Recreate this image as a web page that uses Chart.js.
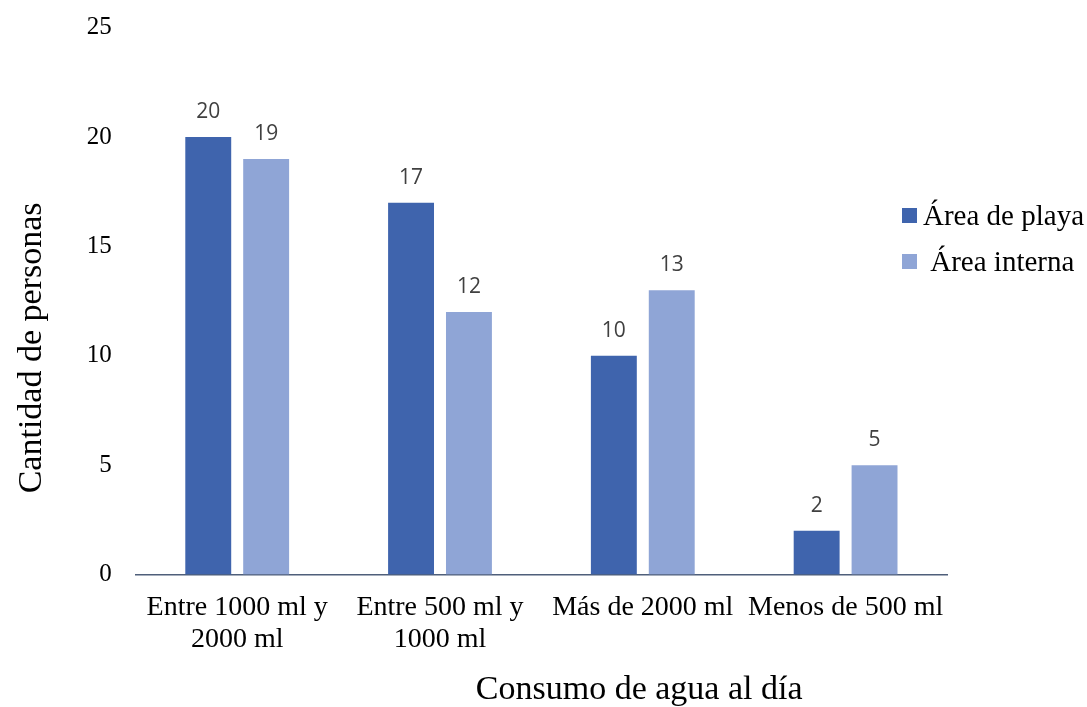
<!DOCTYPE html>
<html>
<head>
<meta charset="utf-8">
<script src="https://cdn.jsdelivr.net/npm/chart.js@4.4.0/dist/chart.umd.min.js"></script>
<style>
  html, body { margin: 0; padding: 0; background: #ffffff; }
  #wrap { position: relative; width: 1087px; height: 707px; }
  #legend { position: absolute; left: 902px; top: 192px; font-family: "Liberation Serif", "Times New Roman", serif; font-size: 29px; color: #000; }
  .item { display: flex; align-items: center; height: 46px; white-space: pre; }
  .box { width: 15px; height: 15px; margin-right: 6px; flex: none; }
</style>
</head>
<body>
<div id="wrap">
  <canvas id="c" width="1087" height="707"></canvas>
  <div id="legend"></div>
</div>
<script>
const categories = [["Entre 1000 ml y", "2000 ml"], ["Entre 500 ml y", "1000 ml"], "Más de 2000 ml", "Menos de 500 ml"];
const seriesNames = ["Área de playa", " Área interna"];
const playa = [20, 17, 10, 2];
const interna = [19, 12, 13, 5];
const yTicksMax = 25;
const yStep = 5;
const colors = ["#3F64AD", "#8FA5D6"];

const serif = '"Liberation Serif", "Times New Roman", serif';

const dataLabels = {
  id: 'dataLabels',
  afterDatasetsDraw(chart) {
    const ctx = chart.ctx;
    ctx.save();
    ctx.font = '21px "Open Sans", "Liberation Sans", sans-serif';
    ctx.fillStyle = '#404040';
    ctx.textAlign = 'center';
    ctx.textBaseline = 'middle';
    chart.data.datasets.forEach((ds, i) => {
      chart.getDatasetMeta(i).data.forEach((bar, j) => {
        ctx.fillText(String(ds.data[j]), bar.x, bar.y - 25);
      });
    });
    ctx.restore();
  }
};

const chart = new Chart(document.getElementById('c'), {
  type: 'bar',
  data: {
    labels: categories,
    datasets: [
      { label: seriesNames[0], data: playa, backgroundColor: colors[0] },
      { label: seriesNames[1], data: interna, backgroundColor: colors[1] }
    ]
  },
  options: {
    responsive: false,
    animation: false,
    layout: { padding: { top: 0, right: 140, left: 8, bottom: 0 } },
    datasets: { bar: { barPercentage: 0.793, categoryPercentage: 0.571 } },
    plugins: { legend: { display: false }, tooltip: { enabled: false } },
    scales: {
      x: {
        grid: { display: false, drawTicks: false },
        border: { display: true, color: '#4F5F7A', width: 1.5 },
        ticks: { color: '#000', font: { family: serif, size: 28, lineHeight: 1.15 }, padding: 17, maxRotation: 0, autoSkip: false },
        title: { display: true, text: '\u00a0'.repeat(23) + 'Consumo de agua al día', color: '#000', font: { family: serif, size: 34, lineHeight: 1 }, padding: { top: 0, bottom: 0 } }
      },
      y: {
        min: 0, max: yTicksMax,
        grid: { display: false, drawTicks: false },
        border: { display: false },
        ticks: { stepSize: yStep, color: '#000', font: { family: serif, size: 25, lineHeight: 0.3 }, padding: 24 },
        title: { display: true, text: 'Cantidad de personas' + '\u00a0'.repeat(11), color: '#000', font: { family: serif, size: 34 }, padding: { bottom: 10 } }
      }
    }
  },
  plugins: [dataLabels]
});

const legend = document.getElementById('legend');
chart.data.datasets.forEach(ds => {
  const item = document.createElement('div');
  item.className = 'item';
  const box = document.createElement('span');
  box.className = 'box';
  box.style.background = ds.backgroundColor;
  const txt = document.createElement('span');
  txt.textContent = ds.label;
  item.appendChild(box);
  item.appendChild(txt);
  legend.appendChild(item);
});
</script>
</body>
</html>
